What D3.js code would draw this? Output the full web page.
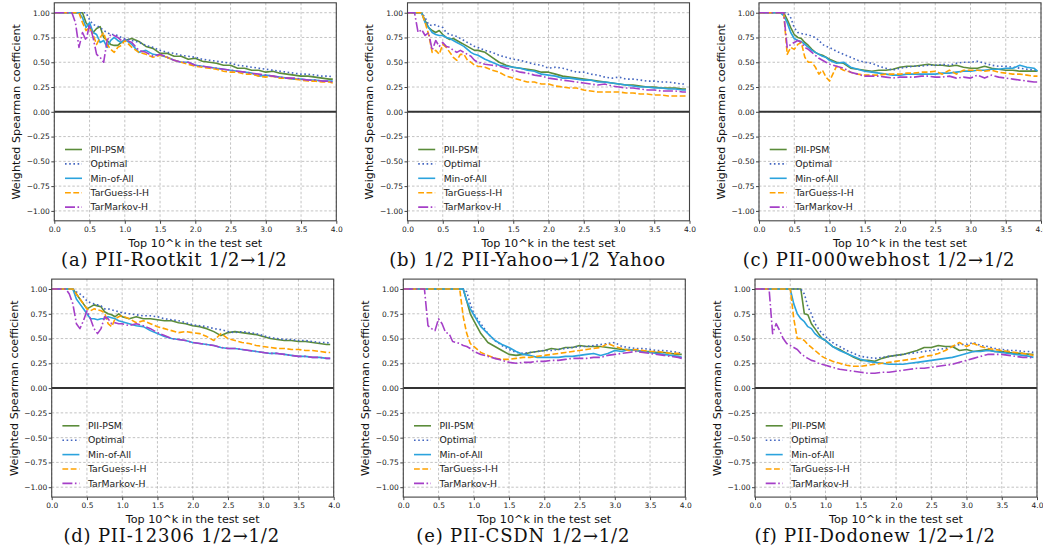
<!DOCTYPE html>
<html>
<head>
<meta charset="utf-8">
<script src="https://cdn.jsdelivr.net/npm/d3@7"></script>
<style>
  body { margin: 0; background: #fff; }
  svg { display: block; }
</style>
</head>
<body>
<svg width="1043" height="552"></svg>
<script>
// x positions shared by every series (k in top 10^k)
const ks = [0, 0.05, 0.1, 0.15, 0.2, 0.25, 0.3, 0.35, 0.4, 0.45, 0.5, 0.55, 0.6, 0.65, 0.7, 0.75, 0.8, 0.85, 0.9, 0.95, 1.0,
  1.1, 1.2, 1.3, 1.4, 1.5, 1.6, 1.7, 1.8, 1.9, 2.0, 2.1, 2.2, 2.3, 2.4, 2.5, 2.6, 2.7, 2.8, 2.9, 3.0,
  3.1, 3.2, 3.3, 3.4, 3.5, 3.6, 3.7, 3.8, 3.9, 3.95];

const seriesNames = ["PII-PSM", "Optimal", "Min-of-All", "TarGuess-I-H", "TarMarkov-H"];
const captions = ["(a) PII-Rootkit 1/2\u21921/2", "(b) 1/2 PII-Yahoo\u21921/2 Yahoo", "(c) PII-000webhost 1/2\u21921/2",
  "(d) PII-12306 1/2\u21921/2", "(e) PII-CSDN 1/2\u21921/2", "(f) PII-Dodonew 1/2\u21921/2"];
const xTicks = [0, 0.5, 1, 1.5, 2, 2.5, 3, 3.5, 4];
const yTicks = [-1, -0.75, -0.5, -0.25, 0, 0.25, 0.5, 0.75, 1];

// (a) Rootkit
const rootkitPSM = [1,1,1,1,1,1,1,1,1,.90,.85,.80,.84,.86,.75,.72,.68,.67,.67,.70,.72,
  .74,.71,.66,.64,.59,.59,.56,.56,.53,.54,.51,.50,.49,.47,.47,.44,.44,.42,.42,.40,.41,.39,.38,.37,.36,.36,.35,.34,.33,.33];
const rootkitOpt = [1,1,1,1,1,1,1,1,1,1,.93,.88,.87,.85,.82,.80,.78,.78,.77,.75,.74,
  .72,.70,.67,.65,.62,.60,.59,.57,.56,.55,.53,.52,.51,.50,.49,.47,.46,.45,.44,.43,.42,.41,.40,.39,.38,.38,.37,.36,.36,.35];
const rootkitMin = [1,1,1,1,1,1,1,1,.95,.85,.90,.80,.78,.70,.72,.65,.72,.75,.72,.70,.73,
  .68,.60,.62,.58,.57,.55,.52,.50,.50,.47,.46,.45,.44,.43,.42,.41,.40,.39,.36,.37,.36,.35,.34,.33,.33,.32,.32,.31,.31,.31];
const rootkitGuess = [1,1,1,1,1,1,1,1,.90,.82,.85,.78,.68,.75,.80,.68,.63,.60,.65,.67,.72,
  .65,.60,.58,.55,.57,.55,.52,.50,.48,.46,.45,.44,.43,.41,.40,.40,.38,.38,.36,.35,.36,.34,.34,.33,.32,.31,.31,.30,.30,.29];
const rootkitMarkov = [1,1,1,1,1,1,.90,.65,.80,.72,.88,.75,.58,.55,.50,.72,.78,.77,.75,.72,.73,
  .70,.62,.60,.56,.58,.55,.52,.50,.50,.47,.46,.45,.44,.43,.42,.41,.40,.39,.38,.37,.36,.35,.34,.34,.33,.32,.32,.31,.31,.30];

// (b) Yahoo
const yahooPSM = [1,1,1,1,1,.92,.85,.82,.80,.82,.78,.75,.73,.74,.72,.70,.68,.66,.64,.62,.62,
  .60,.55,.50,.47,.45,.44,.43,.42,.40,.40,.38,.36,.35,.34,.33,.32,.31,.30,.29,.28,.27,.27,.26,.25,.25,.24,.24,.24,.23,.23];
const yahooOpt = [1,1,1,1,1,.95,.88,.87,.88,.86,.85,.80,.78,.77,.76,.74,.72,.70,.68,.66,.65,
  .62,.60,.57,.55,.53,.52,.50,.48,.47,.44,.45,.44,.42,.40,.40,.38,.37,.35,.34,.35,.33,.33,.32,.31,.31,.30,.30,.29,.28,.28];
const yahooMin = [1,1,1,1,1,.90,.85,.80,.78,.77,.77,.75,.74,.72,.70,.68,.66,.63,.60,.58,.57,
  .53,.50,.47,.46,.45,.44,.42,.41,.38,.37,.36,.34,.34,.33,.32,.32,.30,.30,.29,.28,.27,.26,.25,.25,.24,.24,.23,.23,.22,.22];
const yahooGuess = [1,1,1,1,1,.90,.78,.60,.62,.58,.68,.65,.60,.55,.52,.58,.58,.52,.50,.47,.46,
  .45,.42,.40,.36,.34,.32,.30,.30,.28,.28,.26,.25,.24,.24,.22,.21,.20,.20,.20,.20,.19,.19,.18,.18,.17,.17,.16,.16,.16,.16];
const yahooMarkov = [1,1,1,.80,.83,.77,.80,.62,.72,.66,.70,.66,.65,.62,.60,.62,.60,.58,.56,.52,.50,
  .48,.47,.46,.44,.42,.40,.39,.37,.36,.34,.33,.32,.31,.30,.29,.28,.27,.28,.26,.25,.24,.24,.23,.22,.22,.21,.21,.21,.20,.20];

// (c) 000webhost
const webhostPSM = [1,1,1,1,1,1,1,1,.93,.85,.78,.75,.74,.70,.67,.63,.60,.58,.57,.55,.53,
  .50,.49,.44,.43,.42,.41,.42,.42,.43,.45,.46,.46,.47,.48,.47,.47,.46,.47,.45,.44,.44,.46,.44,.43,.42,.42,.41,.41,.41,.41];
const webhostOpt = [1,1,1,1,1,1,1,1,1,.95,.85,.80,.79,.78,.78,.76,.75,.72,.68,.66,.65,
  .61,.58,.55,.52,.50,.49,.46,.44,.42,.44,.45,.46,.46,.47,.47,.48,.47,.49,.50,.50,.51,.49,.47,.46,.46,.45,.44,.43,.42,.42];
const webhostMin = [1,1,1,1,1,1,1,.97,.90,.80,.74,.72,.71,.68,.65,.62,.60,.58,.56,.55,.52,
  .49,.50,.45,.43,.41,.40,.39,.38,.37,.37,.38,.38,.38,.38,.38,.39,.39,.40,.41,.41,.42,.42,.43,.43,.44,.44,.47,.45,.44,.41];
const webhostGuess = [1,1,1,1,1,1,1,1,.58,.65,.63,.68,.70,.55,.50,.50,.45,.38,.42,.35,.31,
  .46,.42,.40,.38,.37,.37,.37,.38,.38,.38,.39,.39,.40,.40,.41,.38,.42,.38,.42,.42,.42,.41,.42,.40,.39,.38,.38,.37,.36,.36];
const webhostMarkov = [1,1,1,1,1,1,1,1,.65,.68,.70,.72,.70,.65,.63,.60,.57,.54,.52,.50,.48,
  .46,.44,.40,.38,.36,.36,.36,.35,.34,.35,.35,.35,.36,.36,.35,.35,.36,.34,.35,.34,.37,.34,.37,.35,.34,.33,.32,.31,.30,.30];

// (d) 12306
const r12306PSM = [1,1,1,1,1,1,1,.95,.90,.85,.80,.82,.84,.83,.82,.77,.75,.74,.72,.75,.72,
  .70,.72,.70,.70,.69,.68,.68,.66,.65,.63,.62,.60,.57,.53,.56,.57,.56,.55,.54,.52,.50,.49,.48,.48,.47,.47,.46,.45,.44,.44];
const r12306Opt = [1,1,1,1,1,1,1,.97,.95,.92,.88,.86,.85,.84,.83,.80,.80,.79,.78,.77,.76,
  .75,.74,.73,.73,.72,.70,.69,.68,.66,.64,.63,.62,.60,.59,.57,.56,.57,.56,.55,.53,.51,.50,.49,.49,.48,.48,.47,.46,.46,.45];
const r12306Min = [1,1,1,1,1,1,1,.90,.85,.80,.75,.70,.70,.69,.70,.70,.72,.71,.70,.68,.67,
  .65,.63,.62,.58,.55,.52,.50,.49,.48,.46,.45,.44,.43,.41,.40,.40,.39,.38,.37,.36,.35,.35,.34,.33,.32,.32,.31,.31,.30,.30];
const r12306Guess = [1,1,1,1,1,1,1,.95,.90,.85,.80,.78,.80,.79,.78,.76,.65,.62,.70,.72,.73,
  .70,.66,.68,.65,.62,.60,.58,.56,.57,.56,.55,.52,.48,.55,.50,.48,.46,.45,.43,.42,.41,.40,.40,.39,.39,.38,.38,.37,.36,.36];
const r12306Markov = [1,1,1,1,1,.95,.85,.65,.60,.68,.78,.70,.60,.55,.60,.72,.70,.65,.66,.65,.65,
  .63,.65,.63,.60,.56,.53,.50,.49,.48,.46,.45,.44,.43,.41,.40,.40,.39,.38,.37,.36,.35,.35,.34,.33,.32,.32,.31,.31,.30,.30];

// (e) CSDN
const csdnPSM = [1,1,1,1,1,1,1,1,1,1,1,1,1,1,1,1,1,1,.88,.75,.68,
  .55,.46,.42,.38,.34,.33,.34,.36,.37,.38,.40,.39,.41,.41,.43,.42,.42,.42,.41,.40,.39,.39,.38,.37,.37,.36,.36,.35,.34,.34];
const csdnOpt = [1,1,1,1,1,1,1,1,1,1,1,1,1,1,1,1,1,1,.97,.85,.75,
  .65,.55,.48,.43,.39,.36,.35,.36,.37,.38,.38,.39,.40,.41,.42,.42,.43,.44,.45,.46,.42,.41,.40,.40,.39,.38,.38,.37,.36,.35];
const csdnMin = [1,1,1,1,1,1,1,1,1,1,1,1,1,1,1,1,1,1,.88,.80,.74,
  .62,.55,.48,.44,.41,.37,.34,.33,.31,.31,.31,.31,.32,.32,.33,.34,.35,.33,.35,.38,.37,.39,.38,.37,.36,.35,.34,.33,.32,.31];
const csdnGuess = [1,1,1,1,1,1,1,1,1,1,1,1,1,1,1,1,1,.72,.55,.45,.42,
  .36,.33,.30,.29,.29,.30,.31,.31,.32,.33,.34,.35,.36,.37,.38,.39,.40,.41,.45,.42,.40,.38,.39,.38,.37,.37,.36,.35,.35,.34];
const csdnMarkov = [1,1,1,1,1,1,1,.63,.60,.58,.70,.65,.56,.55,.47,.46,.45,.43,.42,.40,.37,
  .34,.32,.30,.28,.26,.25,.26,.26,.27,.27,.28,.28,.29,.30,.30,.30,.31,.31,.33,.34,.35,.36,.37,.36,.35,.34,.33,.32,.31,.30];

// (f) Dodonew
const dodonewPSM = [1,1,1,1,1,1,1,1,1,1,1,1,1,1,.75,.74,.65,.60,.55,.50,.48,
  .42,.39,.35,.31,.28,.28,.27,.30,.32,.33,.34,.36,.38,.41,.41,.43,.42,.42,.38,.39,.37,.38,.39,.37,.37,.36,.35,.35,.34,.34];
const dodonewOpt = [1,1,1,1,1,1,1,1,1,1,1,1,1,1,.95,.82,.75,.65,.60,.55,.52,
  .46,.42,.38,.35,.32,.31,.30,.31,.32,.33,.34,.35,.36,.37,.38,.39,.40,.42,.44,.44,.46,.43,.42,.40,.39,.38,.38,.37,.37,.36];
const dodonewMin = [1,1,1,1,1,1,1,1,1,1,1,.85,.75,.70,.67,.62,.60,.55,.52,.50,.48,
  .42,.38,.35,.32,.29,.27,.26,.25,.24,.24,.24,.25,.26,.27,.28,.29,.30,.31,.33,.35,.37,.37,.38,.37,.36,.35,.34,.33,.32,.31];
const dodonewGuess = [1,1,1,1,1,1,1,1,1,1,1,.70,.50,.50,.48,.44,.41,.38,.35,.32,.30,
  .27,.25,.23,.22,.22,.23,.24,.25,.26,.27,.28,.29,.30,.32,.33,.35,.38,.42,.46,.42,.45,.42,.40,.39,.38,.37,.36,.35,.34,.33];
const dodonewMarkov = [1,1,1,1,1,.55,.65,.58,.50,.45,.43,.41,.39,.35,.32,.30,.28,.27,.25,.24,.23,
  .21,.19,.18,.17,.16,.15,.15,.16,.16,.17,.18,.19,.20,.20,.21,.22,.23,.24,.26,.28,.30,.32,.34,.34,.34,.33,.32,.31,.31,.30];

const panelData = [
  [rootkitPSM, rootkitOpt, rootkitMin, rootkitGuess, rootkitMarkov],
  [yahooPSM, yahooOpt, yahooMin, yahooGuess, yahooMarkov],
  [webhostPSM, webhostOpt, webhostMin, webhostGuess, webhostMarkov],
  [r12306PSM, r12306Opt, r12306Min, r12306Guess, r12306Markov],
  [csdnPSM, csdnOpt, csdnMin, csdnGuess, csdnMarkov],
  [dodonewPSM, dodonewOpt, dodonewMin, dodonewGuess, dodonewMarkov]
];

// estilo das linhas (mesma ordem da legenda)
const colors = ["#5b8c3a", "#4466c0", "#2ba3dd", "#ffa200", "#a53fc8"];
const dashes = [null, "1.6,2.6", null, "5.8,2.5", "10,2.5,1.6,2.5"];

// posição de cada área de plot
const plotW = 282, plotH = 218;
const layout = [
  { left: 54.3, top: 2.8 }, { left: 407.5, top: 2.8 }, { left: 759, top: 2.8 },
  { left: 51.7, top: 279.1 }, { left: 403.3, top: 279.1 }, { left: 755, top: 279.1 }
];

const svg = d3.select("svg");
const fmtY = d3.format(".2f");
const fmtX = d3.format(".1f");

panelData.forEach((series, p) => {
  const { left, top } = layout[p];
  const g = svg.append("g").attr("transform", `translate(${left},${top})`);

  const x = d3.scaleLinear().domain([0, 4]).range([0, plotW]);
  const y = d3.scaleLinear().domain([-1.1, 1.1]).range([plotH, 0]);

  //grade tracejada
  g.append("g").selectAll("line").data(xTicks).join("line")
    .attr("x1", d => x(d)).attr("x2", d => x(d))
    .attr("y1", 0).attr("y2", plotH)
    .attr("stroke", "#b4b4b4").attr("stroke-width", 0.8).attr("stroke-dasharray", "2.5,2");
  g.append("g").selectAll("line").data(yTicks).join("line")
    .attr("x1", 0).attr("x2", plotW)
    .attr("y1", d => y(d)).attr("y2", d => y(d))
    .attr("stroke", "#b4b4b4").attr("stroke-width", 0.8).attr("stroke-dasharray", "2.5,2");

  //linha do zero
  g.append("line")
    .attr("x1", 0).attr("x2", plotW).attr("y1", y(0)).attr("y2", y(0))
    .attr("stroke", "#333").attr("stroke-width", 2);

  //curvas
  const line = d3.line().x(d => x(d[0])).y(d => y(d[1]));
  series.forEach((vals, s) => {
    g.append("path")
      .datum(ks.map((k, i) => [k, vals[i]]))
      .attr("fill", "none")
      .attr("stroke", colors[s])
      .attr("stroke-width", 1.6)
      .attr("stroke-dasharray", dashes[s])
      .attr("stroke-linejoin", "round")
      .attr("d", line);
  });

  //legenda
  const leg = g.append("g").attr("transform", `translate(10.7,${y(0) + 37.7})`);
  seriesNames.forEach((name, s) => {
    const row = leg.append("g").attr("transform", `translate(0,${s * 14.4})`);
    row.append("line")
      .attr("x1", 0).attr("x2", 17).attr("y1", 0).attr("y2", 0)
      .attr("stroke", colors[s]).attr("stroke-width", 1.6)
      .attr("stroke-dasharray", dashes[s]);
    row.append("text")
      .attr("x", 25.5).attr("y", 0).attr("dy", "0.35em")
      .attr("font-family", "DejaVu Sans").attr("font-size", 9.3)
      .attr("fill", "#222").text(name);
  });

  //moldura
  g.append("rect")
    .attr("width", plotW).attr("height", plotH)
    .attr("fill", "none").attr("stroke", "#444").attr("stroke-width", 1.1);

  //eixos
  const ax = g.append("g").attr("transform", `translate(0,${plotH})`)
    .call(d3.axisBottom(x).tickValues(xTicks).tickFormat(fmtX).tickSize(3).tickPadding(2.5));
  const ay = g.append("g")
    .call(d3.axisLeft(y).tickValues(yTicks).tickFormat(fmtY).tickSize(3).tickPadding(1.5));
  [ax, ay].forEach(a => {
    a.select(".domain").remove();
    a.selectAll("line").attr("stroke", "#444");
    a.selectAll("text").attr("font-family", "DejaVu Sans").attr("font-size", 7.5).attr("fill", "#222");
  });

  //títulos dos eixos
  g.append("text")
    .attr("x", plotW / 2).attr("y", plotH + 26)
    .attr("text-anchor", "middle")
    .attr("font-family", "DejaVu Sans").attr("font-size", 11.2).attr("fill", "#111")
    .text("Top 10^k in the test set");
  g.append("text")
    .attr("transform", `translate(-38,${plotH / 2}) rotate(-90)`)
    .attr("text-anchor", "middle").attr("dy", "0.35em")
    .attr("font-family", "DejaVu Sans").attr("font-size", 11.2).attr("fill", "#111")
    .text("Weighted Spearman coefficient");

  //legenda da subfigura
  g.append("text")
    .attr("x", 120).attr("y", plotH + 45)
    .attr("text-anchor", "middle")
    .attr("font-family", "DejaVu Serif").attr("font-size", 18).attr("letter-spacing", 0.8)
    .attr("fill", "#111")
    .text(captions[p]);
});
</script>
</body>
</html>
